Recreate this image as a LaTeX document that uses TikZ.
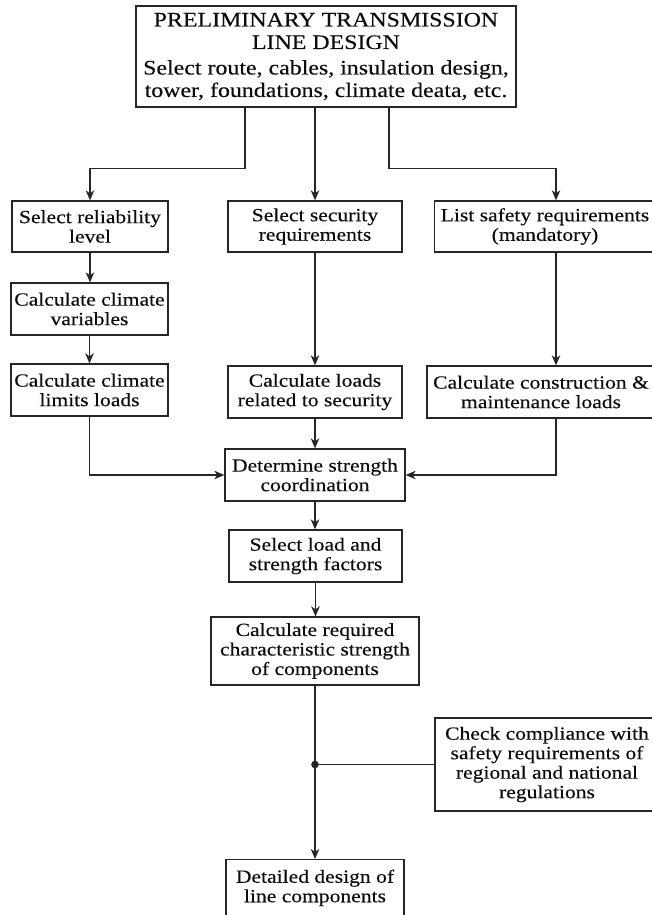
\documentclass[tikz,border=0pt]{standalone}
\usepackage{fontspec}
\setmainfont[FakeStretch=1.16,FakeBold=0.3]{Liberation Serif}
\usetikzlibrary{arrows.meta}
\begin{document}
\begin{tikzpicture}[x=1pt,y=-1pt,
  box/.style={draw=black!85, line width=1.3pt, inner sep=2pt, align=center,
    font=\fontsize{18.6}{19.5}\selectfont, text=black!95},
  link/.style={draw=black!85, line width=1.3pt},
  arr/.style={link, -{Stealth[length=10pt,width=8.5pt,inset=3pt]}},
]
\useasboundingbox (0,0) rectangle (652,915);
\clip (0,0) rectangle (652,915);

% top box
\node[box, minimum width=380, minimum height=101,
      font=\fontsize{20.6}{22.5}\selectfont] (T) at (326,56.5)
  {PRELIMINARY TRANSMISSION\\LINE DESIGN\\[3pt]
   Select route, cables, insulation design,\\tower, foundations, climate deata, etc.};

% left column
\node[box, minimum width=156, minimum height=51] (A1) at (90,226.5) {Select reliability\\level};
\node[box, minimum width=157, minimum height=52] (A2) at (89.5,309) {Calculate climate\\variables};
\node[box, minimum width=157, minimum height=52] (A3) at (89.5,390) {Calculate climate\\limits loads};

% middle column
\node[box, minimum width=174, minimum height=51] (B1) at (315,226.5) {Select security\\requirements};
\node[box, minimum width=174, minimum height=52] (B2) at (315,392) {Calculate loads\\related to security};

% right column
\node[box, minimum width=221, minimum height=51] (C1) at (545,226.5) {List safety requirements\\(mandatory)};
\node[box, minimum width=228, minimum height=52] (C2) at (541,392) {Calculate construction \&\\maintenance loads};

% main chain
\node[box, minimum width=180, minimum height=52] (D) at (315,475) {Determine strength\\coordination};
\node[box, minimum width=173, minimum height=52] (E) at (315.5,556) {Select load and\\strength factors};
\node[box, minimum width=208, minimum height=68] (F) at (315,651) {Calculate required\\characteristic strength\\of components};
\node[box, minimum width=224, minimum height=93] (G) at (547,764.5) {Check compliance with\\safety requirements of\\regional and national\\regulations};
\node[box, minimum width=178, anchor=north, inner ysep=10pt, text depth=50pt] (H) at (315,859)
  {Detailed design of\\line components};

% branch positions
\coordinate (xl) at (245,0);
\coordinate (xr) at (389,0);
\coordinate (xc) at (556,0);

% connectors
\draw[arr] (T.south -| xl) -- ++(0,61) -| (A1.north);
\draw[arr] (T.south -| B1.north) -- (B1.north);
\draw[arr] (T.south -| xr) -- ++(0,61) -| (C1.north -| xc);

\draw[arr] (A1.south) -- (A1.south |- A2.north);
\draw[arr] (A2.south) -- (A2.south |- A3.north);
\draw[arr] (A3.south) |- (D.west);

\draw[arr] (B1.south) -- (B2.north);
\draw[arr] (B2.south) -- (B2.south |- D.north);

\draw[arr] (C1.south -| xc) -- (C2.north -| xc);
\draw[arr] (C2.south -| xc) |- (D.east);

\draw[arr] (D.south) -- (D.south |- E.north);
\draw[arr] (E.south) -- (E.south |- F.north);

\coordinate (j) at (F.south |- G.west);
\draw[arr] (F.south) -- (F.south |- H.north);
\draw[link] (G.west) -- (j);
\fill[black!85] (j) circle (3.8);
\end{tikzpicture}
\end{document}
